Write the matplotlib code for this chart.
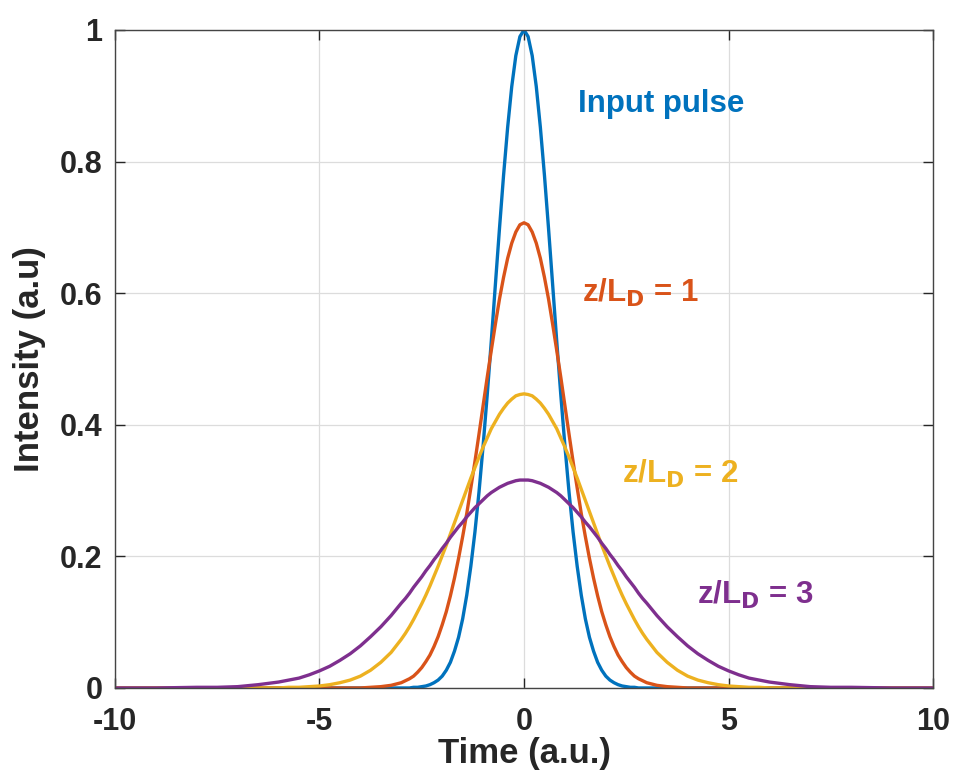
import matplotlib
matplotlib.use('Agg')
from matplotlib import pyplot as plt

# time axis (a.u.), denser near the centre
time = [-10, -9, -8, -7.5, -7, -6.5, -6, -5.75, -5.5, -5.25, -5, -4.75, -4.5, -4.25, -4, -3.75, -3.5, -3.25,
        -3.0, -2.9, -2.8, -2.7, -2.6, -2.5, -2.4, -2.3, -2.2, -2.1, -2.0, -1.9, -1.8, -1.7, -1.6,
        -1.5, -1.4, -1.3, -1.2, -1.1, -1.0, -0.9, -0.8, -0.7, -0.6, -0.5, -0.4, -0.3, -0.2, -0.1,
        0.0,
        0.1, 0.2, 0.3, 0.4, 0.5, 0.6, 0.7, 0.8, 0.9, 1.0, 1.1, 1.2, 1.3, 1.4, 1.5,
        1.6, 1.7, 1.8, 1.9, 2.0, 2.1, 2.2, 2.3, 2.4, 2.5, 2.6, 2.7, 2.8, 2.9, 3.0,
        3.25, 3.5, 3.75, 4, 4.25, 4.5, 4.75, 5, 5.25, 5.5, 5.75, 6, 6.5, 7, 7.5, 8, 9, 10]

# intensity
input_pulse = [0, 0, 0, 0, 0, 0, 0, 0, 0, 0, 0, 0, 0, 0, 0, 0, 0, 0,
               0, 0, 0, 0.001, 0.001, 0.002, 0.003, 0.005, 0.008, 0.012, 0.018, 0.027, 0.039, 0.056, 0.077,
               0.105, 0.141, 0.185, 0.237, 0.298, 0.368, 0.445, 0.527, 0.613, 0.698, 0.779, 0.852, 0.914, 0.961, 0.990,
               1.000,
               0.990, 0.961, 0.914, 0.852, 0.779, 0.698, 0.613, 0.527, 0.445, 0.368, 0.298, 0.237, 0.185, 0.141, 0.105,
               0.077, 0.056, 0.039, 0.027, 0.018, 0.012, 0.008, 0.005, 0.003, 0.002, 0.001, 0.001, 0, 0, 0,
               0, 0, 0, 0, 0, 0, 0, 0, 0, 0, 0, 0, 0, 0, 0, 0, 0, 0]
z1 = [0, 0, 0, 0, 0, 0, 0, 0, 0, 0, 0, 0, 0, 0, 0, 0.001, 0.002, 0.004,
      0.008, 0.011, 0.014, 0.018, 0.024, 0.031, 0.040, 0.050, 0.063, 0.078, 0.096, 0.116, 0.140, 0.167, 0.197,
      0.230, 0.265, 0.304, 0.344, 0.386, 0.429, 0.472, 0.513, 0.553, 0.591, 0.624, 0.653, 0.676, 0.693, 0.704,
      0.707,
      0.704, 0.693, 0.676, 0.653, 0.624, 0.591, 0.553, 0.513, 0.472, 0.429, 0.386, 0.344, 0.304, 0.265, 0.230,
      0.197, 0.167, 0.140, 0.116, 0.096, 0.078, 0.063, 0.050, 0.040, 0.031, 0.024, 0.018, 0.014, 0.011, 0.008,
      0.004, 0.002, 0.001, 0, 0, 0, 0, 0, 0, 0, 0, 0, 0, 0, 0, 0, 0, 0]
z2 = [0, 0, 0, 0, 0, 0, 0, 0.001, 0.001, 0.002, 0.003, 0.005, 0.008, 0.012, 0.018, 0.027, 0.039, 0.054,
      0.074, 0.083, 0.093, 0.104, 0.116, 0.128, 0.141, 0.155, 0.170, 0.185, 0.201, 0.217, 0.234, 0.251, 0.268,
      0.285, 0.302, 0.319, 0.335, 0.351, 0.366, 0.380, 0.394, 0.405, 0.416, 0.425, 0.433, 0.439, 0.444, 0.446,
      0.447,
      0.446, 0.444, 0.439, 0.433, 0.425, 0.416, 0.405, 0.394, 0.380, 0.366, 0.351, 0.335, 0.319, 0.302, 0.285,
      0.268, 0.251, 0.234, 0.217, 0.201, 0.185, 0.170, 0.155, 0.141, 0.128, 0.116, 0.104, 0.093, 0.083, 0.074,
      0.054, 0.039, 0.027, 0.018, 0.012, 0.008, 0.005, 0.003, 0.002, 0.001, 0.001, 0, 0, 0, 0, 0, 0, 0]
z3 = [0, 0, 0.001, 0.001, 0.002, 0.005, 0.009, 0.012, 0.015, 0.020, 0.026, 0.033, 0.042, 0.052, 0.064, 0.078, 0.093, 0.110,
      0.129, 0.136, 0.144, 0.153, 0.161, 0.169, 0.178, 0.186, 0.195, 0.203, 0.212, 0.220, 0.229, 0.237, 0.245,
      0.252, 0.260, 0.267, 0.274, 0.280, 0.286, 0.292, 0.297, 0.301, 0.305, 0.308, 0.311, 0.313, 0.315, 0.316,
      0.316,
      0.316, 0.315, 0.313, 0.311, 0.308, 0.305, 0.301, 0.297, 0.292, 0.286, 0.280, 0.274, 0.267, 0.260, 0.252,
      0.245, 0.237, 0.229, 0.220, 0.212, 0.203, 0.195, 0.186, 0.178, 0.169, 0.161, 0.153, 0.144, 0.136, 0.129,
      0.110, 0.093, 0.078, 0.064, 0.052, 0.042, 0.033, 0.026, 0.020, 0.015, 0.012, 0.009, 0.005, 0.002, 0.001, 0.001, 0, 0]

xticks = [-10, -5, 0, 5, 10]
yticks = [0, 0.2, 0.4, 0.6, 0.8, 1]
ytick_labels = ['0', '0.2', '0.4', '0.6', '0.8', '1']

plt.rcParams['font.family'] = ['Liberation Sans', 'DejaVu Sans']
plt.rcParams['font.weight'] = 'bold'
plt.rcParams['axes.unicode_minus'] = False
txt = '#262626'

fig = plt.figure(figsize=(9.55, 7.75), dpi=100)
ax = fig.add_axes([0.1204, 0.1123, 0.8566, 0.849])

ax.plot(time, input_pulse, color='#0072BD', lw=2.4)
ax.plot(time, z1, color='#D95319', lw=2.4)
ax.plot(time, z2, color='#EDB120', lw=2.4)
ax.plot(time, z3, color='#7E2F8E', lw=2.4)

ax.set_xlim(-10, 10)
ax.set_ylim(0, 1)
ax.set_xticks(xticks)
ax.set_yticks(yticks)
ax.set_yticklabels(ytick_labels)
ax.grid(True, color='#dcdcdc', lw=0.9)
ax.tick_params(direction='in', length=7, width=1, colors=txt, labelsize=22,
               top=True, right=True)
ax.tick_params(axis='x', pad=14)
ax.tick_params(axis='y', pad=9)
for s in ax.spines.values():
    s.set_color('#444444')
    s.set_linewidth(1)

ax.set_xlabel('Time (a.u.)', fontsize=25, fontweight='bold', color=txt, labelpad=0)
ax.set_ylabel('Intensity (a.u)', fontsize=25, fontweight='bold', color=txt, labelpad=10)

fs = 22.5
ax.text(1.32, 0.888, 'Input pulse', color='#0072BD', fontsize=fs, fontweight='bold', va='center')
ax.text(1.42, 0.600, r'z/L$_\mathbf{D}$ = 1', color='#D95319', fontsize=fs, fontweight='bold', va='center')
ax.text(2.40, 0.326, r'z/L$_\mathbf{D}$ = 2', color='#EDB120', fontsize=fs, fontweight='bold', va='center')
ax.text(4.23, 0.142, r'z/L$_\mathbf{D}$ = 3', color='#7E2F8E', fontsize=fs, fontweight='bold', va='center')

fig.savefig('out.png', dpi=100)
